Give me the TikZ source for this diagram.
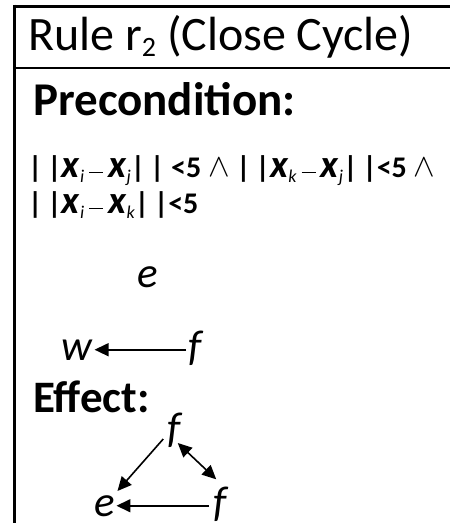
\documentclass[tikz,border=0pt]{standalone}
\usepackage{fontspec}
\setmainfont{Carlito}
\usetikzlibrary{arrows.meta}
\newcommand\bx{\scalebox{1.3}{\textbf{\textit{x}}}}
\newcommand\sbs[1]{\raisebox{-5pt}{\fontsize{18}{18}\selectfont\mdseries\itshape #1}}
\newcommand\mnus{\,\raisebox{4pt}{\rule{14pt}{1.3pt}}\,}
\newcommand\wdg{\raisebox{1pt}{\scalebox{1.3}{$\wedge$}}}
\begin{document}
\begin{tikzpicture}[x=1pt,y=-1pt,
  frame/.style={line width=3pt},
  sep/.style={line width=1.5pt},
  lbl/.style={anchor=base west,inner sep=0pt},
  var/.style={anchor=base,inner sep=0pt,font=\fontsize{43}{43}\selectfont\itshape},
  arr/.style={line width=1.6pt,-{Triangle[length=14pt,width=13pt]}},
  darr/.style={line width=1.6pt,{Triangle[length=14pt,width=13pt]}-{Triangle[length=14pt,width=13pt]}}]
\useasboundingbox (0,0) rectangle (450,523);
\fill[white] (0,0) rectangle (450,523);
% frame
\draw[frame] (14.5,6) -- (450,6);
\draw[frame] (14.5,4.5) -- (14.5,523);
\draw[sep] (14.5,68) -- (450,68);
% texts
\node[lbl,font=\fontsize{48}{48}\selectfont] (title) at (28,50)
  {Rule r{\fontsize{28}{28}\selectfont\raisebox{-6pt}{2}} (Close Cycle)};
\node[lbl,font=\fontsize{47}{47}\selectfont\bfseries] (pre) at (33,115) {Precondition:};
\node[lbl,font=\fontsize{30}{30}\selectfont\bfseries] (c1) at (28,177)
  {|\,|\bx\sbs{i}\mnus\bx\sbs{j}|\,| <5 \wdg{} |\,|\bx\sbs{k}\mnus\bx\sbs{j}|\,|<5 \wdg};
\node[lbl,font=\fontsize{30}{30}\selectfont\bfseries] (c2) at (28,213)
  {|\,|\bx\sbs{i}\mnus\bx\sbs{k}|\,|<5};
% precondition graph
\node[var] (e) at (148,287) {e};
\node[var] (w) at (77,360) {w};
\node[var] (f) at (195,360) {f};
\draw[arr] ([xshift=-2pt]f.west |- w.east) -- ([xshift=2pt]w.east);
\node[lbl,font=\fontsize{45}{45}\selectfont\bfseries] (eff) at (33,412) {Effect:};
% effect graph
\node[var] (ft) at (174,442) {f};
\node[var] (el) at (105,516) {e};
\node[var] (fr) at (220,516) {f};
\draw[arr] ([shift={(-4pt,3pt)}]ft.base west) -- ([shift={(2pt,4pt)}]el.north east);
\draw[darr] ([shift={(-3pt,-1pt)}]ft.base east) -- ([shift={(3pt,7pt)}]fr.north west);
\draw[arr] ([xshift=-4pt]fr.west |- el.east) -- ([xshift=1pt]el.east);
\end{tikzpicture}
\end{document}
